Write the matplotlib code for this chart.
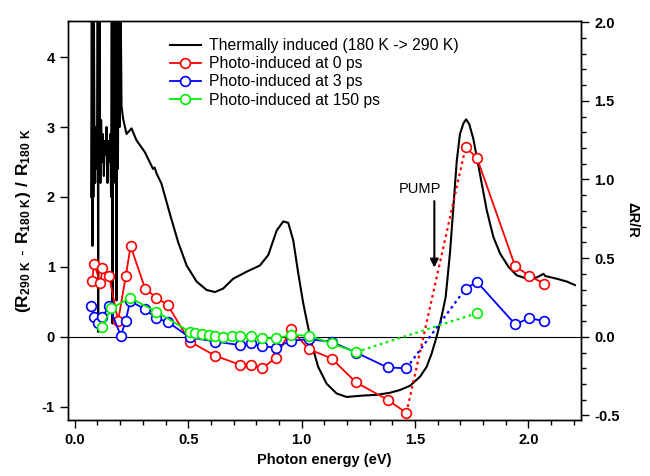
import numpy as np
import matplotlib
matplotlib.use('Agg')
import matplotlib.pyplot as plt
from matplotlib.lines import Line2D
from matplotlib.ticker import MultipleLocator

plt.rcParams['font.family'] = ['Liberation Sans', 'DejaVu Sans']
plt.rcParams['mathtext.fontset'] = 'custom'
plt.rcParams['mathtext.bf'] = 'Liberation Sans:bold'
plt.rcParams['mathtext.rm'] = 'Liberation Sans'
plt.rcParams['axes.unicode_minus'] = False

# thermally induced spectrum (left axis)
thermal_x = [0.072, 0.075, 0.078, 0.080, 0.082, 0.084, 0.087, 0.090, 0.093, 0.096, 0.099,
             0.101, 0.103, 0.105, 0.107, 0.109, 0.111, 0.113, 0.116, 0.120, 0.124, 0.128,
             0.132, 0.136, 0.140, 0.144, 0.148, 0.152, 0.156, 0.160, 0.163, 0.166, 0.169,
             0.172, 0.175, 0.178, 0.181, 0.184, 0.187, 0.190, 0.194, 0.198, 0.202, 0.206,
             0.213, 0.228, 0.250, 0.272, 0.309, 0.345, 0.352, 0.360, 0.382, 0.419, 0.456,
             0.493, 0.537, 0.581, 0.618, 0.654, 0.698, 0.757, 0.816, 0.853, 0.890, 0.919,
             0.941, 0.963, 0.985, 1.007, 1.022, 1.044, 1.073, 1.110, 1.154, 1.198, 1.272,
             1.331, 1.390, 1.434, 1.478, 1.522, 1.551, 1.573, 1.595, 1.617, 1.635, 1.654,
             1.669, 1.684, 1.698, 1.713, 1.725, 1.739, 1.757, 1.786, 1.816, 1.845, 1.875,
             1.912, 1.948, 1.993, 2.037, 2.066, 2.073, 2.125, 2.169, 2.205]
thermal_y = [2.0, 4.9, 1.3, 4.9, 2.0, 4.9, 2.6, 2.2, 3.0, 2.4, 2.9,
             4.9, 0.07, 4.9, 2.3, 4.9, 2.7, 2.2, 3.1, 2.5, 2.9, 2.3,
             2.8, 2.6, 3.0, 2.2, 2.8, 2.5, 2.9, 2.0, 4.9, 0.19, 4.9,
             2.6, 4.9, 2.2, 4.9, 0.52, 4.9, 2.4, 4.9, 3.0, 4.9, 3.3,
             3.12, 2.9, 2.98, 2.81, 2.64, 2.40, 2.42, 2.34, 2.19, 1.76, 1.35,
             1.02, 0.79, 0.67, 0.64, 0.69, 0.83, 0.93, 1.02, 1.17, 1.52, 1.65,
             1.63, 1.38, 0.91, 0.48, 0.24, -0.10, -0.43, -0.67, -0.81, -0.86, -0.84,
             -0.83, -0.80, -0.76, -0.70, -0.57, -0.43, -0.24, 0.0, 0.29, 0.57, 1.2,
             1.86, 2.52, 2.90, 3.05, 3.11, 3.04, 2.83, 2.33, 1.81, 1.43, 1.19,
             1.0, 0.88, 0.83, 0.85, 0.90, 0.87, 0.83, 0.79, 0.74]

# photo-induced dR/R (right axis)
red_x = [0.076, 0.085, 0.113, 0.122, 0.151, 0.191, 0.225, 0.246, 0.310, 0.359, 0.409,
         0.507, 0.618, 0.729, 0.775, 0.826, 0.885, 0.953, 1.031, 1.132, 1.240, 1.379, 1.462]
red_y = [0.355, 0.465, 0.34, 0.435, 0.387, 0.10, 0.387, 0.577, 0.306, 0.249, 0.203,
         -0.03, -0.12, -0.178, -0.178, -0.20, -0.135, 0.049, -0.078, -0.138, -0.29, -0.40, -0.484]
red_hi_x = [1.723, 1.773, 1.941, 2.004, 2.070]
red_hi_y = [1.205, 1.137, 0.45, 0.387, 0.338]

blue_x = [0.073, 0.084, 0.104, 0.122, 0.151, 0.203, 0.224, 0.244, 0.309, 0.359, 0.409,
          0.507, 0.618, 0.729, 0.775, 0.826, 0.885, 0.954, 1.031, 1.132, 1.240, 1.379, 1.462]
blue_y = [0.195, 0.125, 0.087, 0.125, 0.195, 0.006, 0.10, 0.228, 0.175, 0.118, 0.095,
          -0.004, -0.03, -0.053, -0.042, -0.06, -0.068, -0.025, -0.015, -0.032, -0.10, -0.195, -0.20]
blue_hi_x = [1.723, 1.773, 1.941, 2.004, 2.070]
blue_hi_y = [0.306, 0.349, 0.08, 0.118, 0.10]

green_x = [0.122, 0.160, 0.244, 0.359, 0.507, 0.532, 0.562, 0.591, 0.620, 0.654, 0.691,
           0.729, 0.775, 0.826, 0.885, 0.953, 1.031, 1.132, 1.240]
green_y = [0.063, 0.18, 0.247, 0.16, 0.032, 0.025, 0.017, 0.011, 0.004, -0.002, 0.004,
           0.004, 0.004, -0.008, -0.01, 0.011, 0.008, -0.042, -0.097]
green_hi_x = [1.773]
green_hi_y = [0.15]

fig = plt.figure(figsize=(6.5, 4.76), dpi=100)
ax = fig.add_axes([0.1046, 0.1176, 0.7894, 0.8389])
ax2 = ax.twinx()

ax.plot(thermal_x, thermal_y, color='black', lw=1.5)
ax.axhline(0, color='black', lw=0.8)

mk = dict(marker='o', ms=7, mfc='white', mew=1.2, lw=1.3)
for xs, ys, hx, hy, c in [(red_x, red_y, red_hi_x, red_hi_y, 'red'),
                          (blue_x, blue_y, blue_hi_x, blue_hi_y, 'blue'),
                          (green_x, green_y, green_hi_x, green_hi_y, '#00ee00')]:
    ax2.plot([xs[-1], hx[0]], [ys[-1], hy[0]], ls=(0, (1.2, 1.6)), color=c, lw=1.6)
    ax2.plot(xs, ys, color=c, **mk)
    ax2.plot(hx, hy, color=c, **mk)

ax.set_xlim(-0.03, 2.232)
ax.set_ylim(-1.19, 4.52)
ax2.set_ylim(-1.19 / 2.25, 4.52 / 2.25)

ax.xaxis.set_major_locator(MultipleLocator(0.5))
ax.xaxis.set_minor_locator(MultipleLocator(0.1))
ax.yaxis.set_major_locator(MultipleLocator(1))
ax2.yaxis.set_major_locator(MultipleLocator(0.5))
ax2.yaxis.set_minor_locator(MultipleLocator(0.1))

ax.tick_params(axis='both', which='major', direction='out', length=6, width=1, labelsize=10.5)
ax.tick_params(axis='x', which='minor', direction='out', length=3.5, width=1)
ax2.tick_params(axis='y', which='major', direction='out', length=6, width=1, labelsize=10.5)
ax2.tick_params(axis='y', which='minor', direction='out', length=3.5, width=1)
for a in (ax, ax2):
    for lab in a.get_xticklabels() + a.get_yticklabels():
        lab.set_fontweight('bold')
    for s in a.spines.values():
        s.set_linewidth(1.0)

ax.set_xlabel('Photon energy (eV)', fontsize=10.5, fontweight='bold')
ax.set_ylabel(r'$\mathbf{(R_{290\ K}\ \text{-}\ R_{180\ K})\ /\ R_{180\ K}}$', fontsize=12.5,
              labelpad=6)
ax2.set_ylabel('ΔR/R', fontsize=10.5, fontweight='bold', rotation=270, labelpad=14)

ax.annotate('', xy=(1.585, 0.95), xytext=(1.585, 1.98),
            arrowprops=dict(arrowstyle='-|>', color='black', lw=1.5, mutation_scale=12))
ax.text(1.52, 2.12, 'PUMP', fontsize=10.5, ha='center', va='center')

handles = [Line2D([], [], color='black', lw=1.5),
           Line2D([], [], color='red', **mk),
           Line2D([], [], color='blue', **mk),
           Line2D([], [], color='#00ee00', **mk)]
labels = ['Thermally induced (180 K -> 290 K)', 'Photo-induced at 0 ps',
          'Photo-induced at 3 ps', 'Photo-induced at 150 ps']
ax2.legend(handles, labels, loc='upper left', bbox_to_anchor=(0.186, 0.972), frameon=False,
           fontsize=11.3, handlelength=2.0, handletextpad=0.5, labelspacing=0.2,
           borderaxespad=0)

fig.savefig('out.png', dpi=100)
